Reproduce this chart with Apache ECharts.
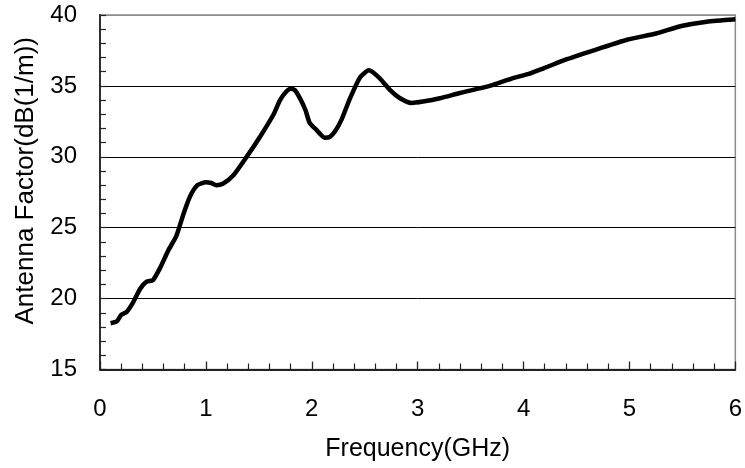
<!DOCTYPE html>
<html>
<head>
<meta charset="utf-8">
<script src="https://cdn.jsdelivr.net/npm/echarts@6/dist/echarts.min.js"></script>
<style>
html,body{margin:0;padding:0;background:#fff;}
#chart{width:745px;height:468px;}
</style>
</head>
<body>
<div id="chart"></div>
<script>
var freqGHz = [0.10,0.16,0.20,0.25,0.31,0.38,0.44,0.50,0.57,0.645,0.72,0.79,0.85,0.92,1.00,1.05,1.10,1.16,1.26,1.385,1.51,1.64,1.70,1.76,1.80,1.84,1.89,1.94,1.98,2.05,2.12,2.17,2.22,2.28,2.36,2.455,2.54,2.64,2.74,2.83,2.94,3.05,3.21,3.40,3.68,3.90,4.05,4.19,4.41,4.72,4.97,5.26,5.49,5.73,6.00];
var antennaFactor = [18.26,18.40,18.85,19.05,19.70,20.70,21.20,21.30,22.20,23.40,24.40,26.00,27.20,28.00,28.20,28.15,28.00,28.10,28.70,30.00,31.40,33.00,34.00,34.60,34.80,34.70,34.10,33.30,32.40,31.85,31.35,31.40,31.80,32.60,34.10,35.60,36.10,35.55,34.70,34.15,33.80,33.90,34.13,34.50,35.00,35.55,35.85,36.24,36.88,37.65,38.24,38.71,39.22,39.53,39.70];
var xAxisName = 'Frequency(GHz)';
var yAxisName = 'Antenna Factor(dB(1/m))';

var pts = freqGHz.map(function(f,i){return [f, antennaFactor[i]];});
var font = 'Liberation Sans, Arial, sans-serif';
var chart = echarts.init(document.getElementById('chart'));
chart.setOption({
  animation:false,
  backgroundColor:'#fff',
  grid:{left:100,right:9,top:15,bottom:98.5,show:true,borderColor:'#8c8c8c',borderWidth:1.5,backgroundColor:'transparent'},
  xAxis:{
    type:'value',min:0,max:6,interval:1,
    name:xAxisName,nameLocation:'middle',nameGap:67,
    nameTextStyle:{fontFamily:font,fontSize:25,color:'#000'},
    axisLine:{lineStyle:{color:'#222',width:1.8}},
    axisTick:{inside:true,length:8,lineStyle:{color:'#222',width:1.3}},
    minorTick:{show:true,splitNumber:5,length:6,lineStyle:{color:'#222',width:1.2}},
    axisLabel:{margin:28,fontFamily:font,fontSize:24,color:'#000'},
    splitLine:{show:false}
  },
  yAxis:{
    type:'value',min:15,max:40,interval:5,
    name:yAxisName,nameLocation:'middle',nameGap:61,
    nameTextStyle:{fontFamily:font,fontSize:26,color:'#000',padding:[0,0,0,23]},
    axisLine:{lineStyle:{color:'#222',width:1.8}},
    axisTick:{inside:true,length:6,lineStyle:{color:'#222',width:1.2}},
    minorTick:{show:true,splitNumber:5,length:6,lineStyle:{color:'#222',width:1.2}},
    axisLabel:{margin:23,fontFamily:font,fontSize:24,color:'#000'},
    splitLine:{show:true,lineStyle:{color:['#000','#000','#000','#000','#000','#8c8c8c'],width:1}}
  },
  series:[{
    type:'line',data:pts,showSymbol:false,smooth:0.2,
    lineStyle:{color:'#000',width:4.5},
    z:5
  }]
});
</script>
</body>
</html>
